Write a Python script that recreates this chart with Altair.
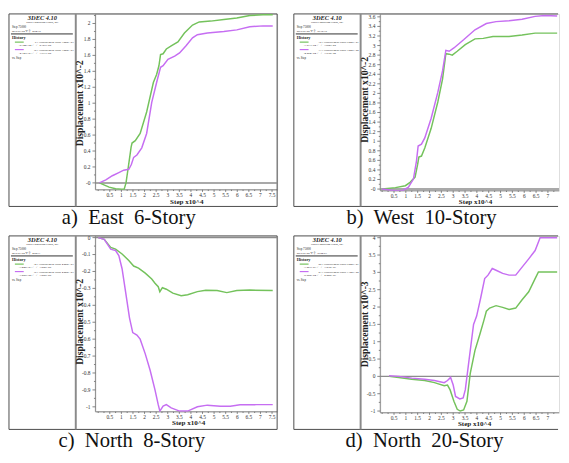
import altair as alt
import pandas as pd

SERIF = "Liberation Serif"
GREEN = "#74c25c"
PURPLE = "#c66ef2"

# ---------------- data (x: Step x10^4, y: displacement) ----------------
# a) East 6-Story  (x10^-2)
a_gx = [0.05, 0.47, 0.75, 1.0, 1.12, 1.2, 1.3, 1.42, 1.46, 1.6, 1.81, 2.09, 2.38, 2.52, 2.62, 2.69, 2.8, 2.94, 3.15, 3.44, 3.72, 4.07, 4.36, 4.85, 5.42, 5.98, 6.54, 7.11, 7.53]
a_gy = [0.0, -0.053, -0.074, -0.08, -0.08, 0.0, 0.2, 0.45, 0.5, 0.53, 0.62, 0.89, 1.26, 1.36, 1.47, 1.61, 1.62, 1.68, 1.72, 1.77, 1.88, 1.98, 2.02, 2.03, 2.05, 2.07, 2.1, 2.11, 2.11]
a_px = [0.05, 0.33, 0.61, 0.89, 1.1, 1.32, 1.43, 1.53, 1.67, 1.88, 2.09, 2.31, 2.52, 2.69, 2.8, 3.01, 3.3, 3.51, 3.79, 4.07, 4.28, 4.71, 5.42, 5.98, 6.54, 7.11, 7.53]
a_py = [0.0, 0.037, 0.09, 0.13, 0.16, 0.17, 0.23, 0.32, 0.35, 0.44, 0.62, 1.01, 1.26, 1.45, 1.47, 1.55, 1.59, 1.63, 1.72, 1.82, 1.86, 1.88, 1.9, 1.92, 1.96, 1.97, 1.97]

# b) West 10-Story  (x10^-2)
b_gx = [0.0, 0.56, 0.98, 1.18, 1.39, 1.5, 1.55, 1.66, 1.8, 2.07, 2.35, 2.55, 2.69, 2.83, 2.96, 3.17, 3.51, 3.92, 4.27, 4.68, 5.36, 5.91, 6.46, 7.39]
b_gy = [0.0, 0.03, 0.07, 0.14, 0.25, 0.52, 0.67, 0.69, 0.86, 1.27, 1.82, 2.3, 2.83, 2.82, 2.8, 2.88, 3.02, 3.14, 3.15, 3.19, 3.19, 3.22, 3.26, 3.26]
b_px = [0.0, 0.49, 0.84, 1.11, 1.32, 1.45, 1.52, 1.66, 1.8, 2.07, 2.35, 2.55, 2.69, 2.83, 3.03, 3.44, 3.92, 4.4, 4.81, 5.36, 5.91, 6.46, 6.87, 7.39]
b_py = [0.0, -0.03, -0.04, 0.04, 0.21, 0.59, 0.9, 0.94, 1.07, 1.48, 2.02, 2.47, 2.9, 2.88, 2.95, 3.12, 3.33, 3.46, 3.5, 3.52, 3.55, 3.61, 3.63, 3.62]

# c) North 8-Story  (x10^-2)
c_gx = [0.0, 0.26, 0.54, 0.75, 1.03, 1.32, 1.53, 1.74, 2.03, 2.31, 2.45, 2.59, 2.66, 2.77, 2.94, 3.22, 3.58, 3.86, 4.28, 4.64, 5.13, 5.55, 5.98, 6.54, 7.53]
c_gy = [0.0, -0.01, -0.058, -0.068, -0.097, -0.135, -0.168, -0.18, -0.21, -0.245, -0.27, -0.29, -0.32, -0.296, -0.305, -0.328, -0.344, -0.338, -0.319, -0.311, -0.313, -0.325, -0.313, -0.31, -0.313]
c_px = [0.0, 0.26, 0.54, 0.75, 0.89, 1.03, 1.18, 1.35, 1.49, 1.67, 1.81, 2.03, 2.24, 2.45, 2.59, 2.66, 2.8, 2.94, 3.15, 3.51, 3.86, 4.28, 4.71, 5.27, 5.7, 6.12, 6.83, 7.53]
c_py = [0.0, -0.01, -0.068, -0.077, -0.106, -0.184, -0.319, -0.474, -0.561, -0.576, -0.6, -0.687, -0.784, -0.9, -0.987, -1.025, -0.996, -0.987, -1.006, -1.025, -1.025, -1.0, -0.99, -0.996, -0.996, -0.988, -0.987, -0.987]

# d) North 20-Story  (x10^-3)
d_gx = [0.29, 0.7, 1.25, 1.8, 2.21, 2.62, 2.76, 2.87, 3.03, 3.17, 3.3, 3.44, 3.58, 3.72, 3.92, 4.13, 4.29, 4.4, 4.54, 4.81, 5.09, 5.36, 5.64, 5.91, 6.19, 6.46, 6.6, 7.01, 7.39]
d_gy = [0.0, -0.03, -0.085, -0.12, -0.18, -0.27, -0.25, -0.39, -0.72, -0.95, -1.0, -0.97, -0.72, 0.085, 0.75, 1.22, 1.6, 1.88, 1.97, 2.04, 1.99, 1.93, 1.97, 2.21, 2.44, 2.82, 3.01, 3.01, 3.01]
d_px = [0.29, 0.7, 1.25, 1.8, 2.21, 2.62, 2.76, 2.89, 3.0, 3.1, 3.28, 3.42, 3.51, 3.65, 3.86, 3.99, 4.16, 4.33, 4.47, 4.65, 4.81, 5.09, 5.36, 5.64, 5.91, 6.19, 6.46, 6.67, 7.01, 7.39]
d_py = [0.02, 0.0, -0.05, -0.08, -0.12, -0.18, -0.12, -0.03, -0.25, -0.58, -0.65, -0.62, -0.39, 0.37, 1.5, 1.74, 2.26, 2.82, 2.92, 3.11, 3.06, 2.97, 2.92, 2.92, 3.15, 3.39, 3.63, 4.0, 4.0, 4.0]

# ---------------- tick labels ----------------
x_ticks_ac = [0.5, 1, 1.5, 2, 2.5, 3, 3.5, 4, 4.5, 5, 5.5, 6, 6.5, 7, 7.5]
x_labels_ac = ["0.5", "1", "1.5", "2", "2.5", "3", "3.5", "4", "4.5", "5", "5.5", "6", "6.5", "7", "7.5"]
x_ticks_bd = [0.5, 1, 1.5, 2, 2.5, 3, 3.5, 4, 4.5, 5, 5.5, 6, 6.5, 7]
x_labels_bd = ["0.5", "1", "1.5", "2", "2.5", "3", "3.5", "4", "4.5", "5", "5.5", "6", "6.5", "7"]
x_minor_ac = [0, 0.25, 0.75, 1.25, 1.75, 2.25, 2.75, 3.25, 3.75, 4.25, 4.75, 5.25, 5.75, 6.25, 6.75, 7.25]
x_minor_bd = [0, 0.25, 0.75, 1.25, 1.75, 2.25, 2.75, 3.25, 3.75, 4.25, 4.75, 5.25, 5.75, 6.25, 6.75, 7.25]

a_yticks = [0, 0.2, 0.4, 0.6, 0.8, 1, 1.2, 1.4, 1.6, 1.8, 2]
a_ylabels = ["-0", "0.2", "0.4", "0.6", "0.8", "1", "1.2", "1.4", "1.6", "1.8", "2"]
a_yminor = [0.1, 0.3, 0.5, 0.7, 0.9, 1.1, 1.3, 1.5, 1.7, 1.9, 2.1]
b_yticks = [0, 0.2, 0.4, 0.6, 0.8, 1, 1.2, 1.4, 1.6, 1.8, 2, 2.2, 2.4, 2.6, 2.8, 3, 3.2, 3.4, 3.6]
b_ylabels = ["-0", "0.2", "0.4", "0.6", "0.8", "1", "1.2", "1.4", "1.6", "1.8", "2", "2.2", "2.4", "2.6", "2.8", "3", "3.2", "3.4", "3.6"]
b_yminor = [0.1, 0.3, 0.5, 0.7, 0.9, 1.1, 1.3, 1.5, 1.7, 1.9, 2.1, 2.3, 2.5, 2.7, 2.9, 3.1, 3.3, 3.5]
c_yticks = [0, -0.1, -0.2, -0.3, -0.4, -0.5, -0.6, -0.7, -0.8, -0.9, -1]
c_ylabels = ["0", "-0.1", "-0.2", "-0.3", "-0.4", "-0.5", "-0.6", "-0.7", "-0.8", "-0.9", "-1"]
c_yminor = [-0.05, -0.15, -0.25, -0.35, -0.45, -0.55, -0.65, -0.75, -0.85, -0.95]
d_yticks = [-1, -0.5, 0, 0.5, 1, 1.5, 2, 2.5, 3, 3.5, 4]
d_ylabels = ["-1", "-0.5", "0", "0.5", "1", "1.5", "2", "2.5", "3", "3.5", "4"]
d_yminor = [-0.75, -0.25, 0.25, 0.75, 1.25, 1.75, 2.25, 2.75, 3.25, 3.75]

captions = ["a)\u00a0 East\u00a0 6-Story", "b)\u00a0 West\u00a0 10-Story",
            "c)\u00a0 North\u00a0 8-Story", "d)\u00a0 North\u00a0 20-Story"]
y_titles = ["Displacement x10^-2", "Displacement x10^-2",
            "Displacement x10^-2", "Displacement x10^-3"]
x_title = "Step x10^4"
info_steps = ["Step 75000", "Step 75000", "Step 75000", "Step 75000"]
info_dates = ["2015-03-20 오후 4:24:18", "2015-03-20 오후 10:10:18",
              "2015-03-20 오후 4:20:11", "2015-03-20 오후 10:04:53"]
legend1 = ["6  1 Displacement xdisp 3.000E+01", "12  1 Displacement xdisp 9.000E+01",
           "14  1 Displacement ydisp 4.000E+01", "22  1 Displacement xdisp 9.000E+01"]
range1 = ["-8.344E-04 <= <= 2.103E-02", "-1.511E-04 <= <= 3.260E-02",
          "-3.440E-03 <= <= 1.050E-05", "-1.021E-03 <= <= 3.010E-03"]
legend2 = ["12  1 Displacement xdisp 3.000E+01", "13  1 Displacement xdisp 1.000E+02",
           "15  1 Displacement ydisp 4.000E+01", "23  1 Displacement xdisp 1.100E+02"]
range2 = ["-4.149E-03 <= <= 1.971E-02", "-4.054E-04 <= <= 3.630E-02",
          "-1.025E-02 <= <= 1.058E-05", "-6.580E-04 <= <= 4.000E-03"]

one = pd.DataFrame({"k": [0]})
AXC = "#666666"
LABC = "#333333"


def txt(text, x, y, size, align="left", weight="normal", style="normal",
        angle=0, color="#222222", font=SERIF):
    return alt.Chart(one).mark_text(
        text=text, align=align, baseline="middle", fontSize=size,
        fontWeight=weight, fontStyle=style, angle=angle, color=color, font=font
    ).encode(x=alt.value(x), y=alt.value(y))


def rule(x1, y1, x2, y2, color="#555555", width=1.0):
    return alt.Chart(one).mark_rule(color=color, strokeWidth=width).encode(
        x=alt.value(x1), y=alt.value(y1), x2=alt.value(x2), y2=alt.value(y2))


def panel(idx, gx, gy, px, py, w, h, xdom, ydom, xt, xl, xm, yt, yl, ym,
          frame_bottom, right_border, ytitle_pos, xtitle_pos, cap_pos):
    xs = alt.Scale(domain=xdom, nice=False, zero=False)
    ys = alt.Scale(domain=ydom, nice=False, zero=False)

    df = pd.DataFrame({
        "x": gx + px, "y": gy + py,
        "s": ["g"] * len(gx) + ["p"] * len(px),
        "i": list(range(len(gx))) + list(range(len(px))),
    })
    lines = alt.Chart(df).mark_line(strokeWidth=1.5, clip=True).encode(
        x=alt.X("x:Q", scale=xs, axis=None),
        y=alt.Y("y:Q", scale=ys, axis=None),
        color=alt.Color("s:N", scale=alt.Scale(domain=["g", "p"], range=[GREEN, PURPLE]), legend=None),
        detail="s:N",
        order="i:Q",
    )
    zero = alt.Chart(pd.DataFrame({"z": [0]})).mark_rule(
        color="#8c8c8c", strokeWidth=1.5).encode(y=alt.Y("z:Q", scale=ys, axis=None))

    # axes drawn from the tick arrays through the scales
    xdf = pd.DataFrame({"v": xt, "t": xl})
    ydf = pd.DataFrame({"v": yt, "t": yl})
    x_major = alt.Chart(xdf).mark_rule(color=AXC, strokeWidth=0.8).encode(
        x=alt.X("v:Q", scale=xs, axis=None), y=alt.value(h), y2=alt.value(h + 2.2))
    x_minor = alt.Chart(pd.DataFrame({"v": xm})).mark_rule(color=AXC, strokeWidth=0.8).encode(
        x=alt.X("v:Q", scale=xs, axis=None), y=alt.value(h), y2=alt.value(h + 1.3))
    x_lab = alt.Chart(xdf).mark_text(fontSize=5.5, font=SERIF, color=LABC, baseline="middle").encode(
        x=alt.X("v:Q", scale=xs, axis=None), y=alt.value(h + 5), text="t:N")
    y_major = alt.Chart(ydf).mark_rule(color=AXC, strokeWidth=0.8).encode(
        y=alt.Y("v:Q", scale=ys, axis=None), x=alt.value(-3), x2=alt.value(0))
    y_minor = alt.Chart(pd.DataFrame({"v": ym})).mark_rule(color=AXC, strokeWidth=0.8).encode(
        y=alt.Y("v:Q", scale=ys, axis=None), x=alt.value(-1.5), x2=alt.value(0))
    y_lab = alt.Chart(ydf).mark_text(fontSize=5.5, font=SERIF, color=LABC, align="right",
                                     baseline="middle").encode(
        y=alt.Y("v:Q", scale=ys, axis=None), x=alt.value(-5), text="t:N")

    L = -88
    R = w if right_border else w - 1
    deco = [
        rule(L, 0, R, 0, "#4a4a4a", 1),
        rule(L, frame_bottom, R, frame_bottom, "#4a4a4a", 1),
        rule(L, 0, L, frame_bottom, "#4a4a4a", 1),
        rule(-20, 0, -20, frame_bottom, "#8a8a8a", 2),
        rule(0, 0, 0, h, "#8a8a8a", 1),
        rule(0, h, w, h, "#8a8a8a", 1),
    ]
    if right_border:
        deco.append(rule(w, 0, w, frame_bottom, "#4a4a4a", 1))
    deco += [
        txt("3DEC 4.10", L + 34, 3.8, 6.5, align="center", weight="bold", style="italic"),
        txt("Itasca Consulting Group, Inc.", L + 34, 8.7, 2.8, align="center"),
        txt(info_steps[idx], L + 3, 13.7, 3.2),
        txt(info_dates[idx], L + 3, 17.0, 2.8),
        rule(L + 2, 20.3, -23, 20.3, "#8a8a8a", 2),
        txt("History", L + 3, 25.0, 4.3, weight="bold"),
        rule(L + 6, 28.7, L + 15, 28.7, GREEN, 1.2),
        txt(legend1[idx], -22, 28.7, 2.8, align="right"),
        txt(range1[idx], L + 10, 32.0, 2.8),
        rule(L + 6, 36.3, L + 15, 36.3, PURPLE, 1.2),
        txt(legend2[idx], -22, 36.3, 2.8, align="right"),
        txt(range2[idx], L + 10, 40.0, 2.8),
        txt("vs. Step", L + 3, 44.7, 3.0),
        txt(y_titles[idx], ytitle_pos[0], ytitle_pos[1], 9.8, align="center",
            weight="bold", angle=270, color="#222222"),
        txt(x_title, xtitle_pos[0], xtitle_pos[1], 7.2, align="center",
            weight="bold", color="#222222"),
        txt(captions[idx], cap_pos[0], cap_pos[1], 21, align="center",
            color="#111111"),
    ]
    return alt.layer(*deco, zero, x_minor, x_major, y_minor, y_major, x_lab, y_lab,
                     lines).properties(width=w, height=h)


pa = panel(0, a_gx, a_gy, a_px, a_py, 185, 179, [-0.12, 7.72], [-0.086, 2.12],
           x_ticks_ac, x_labels_ac, x_minor_ac, a_yticks, a_ylabels, a_yminor,
           196, True, (-16, 91), (93, 191.5), (34, 207.5))
pb = panel(1, b_gx, b_gy, b_px, b_py, 182, 180, [-0.08, 7.47], [-0.035, 3.661],
           x_ticks_bd, x_labels_bd, x_minor_bd, b_yticks, b_ylabels, b_yminor,
           196, False, (-15, 87.5), (97, 191.5), (42, 207.5))
pc = panel(2, c_gx, c_gy, c_px, c_py, 185, 179, [-0.12, 7.72], [-1.029, 0.01],
           x_ticks_ac, x_labels_ac, x_minor_ac, c_yticks, c_ylabels, c_yminor,
           197, True, (-16, 87.5), (95, 191), (37, 208.5))
pd_ = panel(3, d_gx, d_gy, d_px, d_py, 182, 180, [-0.08, 7.47], [-1.048, 4.051],
            x_ticks_bd, x_labels_bd, x_minor_bd, d_yticks, d_ylabels, d_yminor,
            197, False, (-15, 90), (96, 191.5), (45, 208.5))

chart = alt.concat(
    pa, pb, pc, pd_, columns=2, spacing={"row": 46, "column": 105},
    bounds="flush", align="all"
).properties(padding=0).configure_view(stroke="transparent").configure(background="white")

chart.save("out.html", embed_options={"renderer": "svg", "actions": False})
